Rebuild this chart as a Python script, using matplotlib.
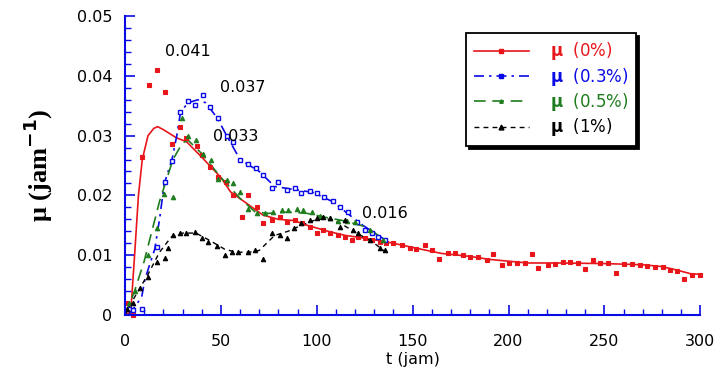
import matplotlib.pyplot as plt
from matplotlib.lines import Line2D
from matplotlib.ticker import MultipleLocator

# ---- data ----

# mu (0%) : measured points and fitted curve
t_0 = [0.5, 4.2, 8.9, 12.5, 16.7, 20.9, 24.5, 28.7, 32, 37.4,
       40, 44.3, 48.5, 52.5, 56.5, 61, 64, 68.8, 72, 76.6,
       80.8, 84.5, 88.7, 92.3, 96.5, 100, 103.3, 107, 111, 114.8,
       118.4, 121.5, 125, 129, 133, 136, 140, 144.5, 148.7, 152,
       156.5, 160, 164, 168.5, 172, 176.5, 180, 184, 188.8, 192,
       196.7, 200, 204.5, 208.7, 212.3, 215.5, 220.7, 224, 228.5, 232,
       236.3, 240, 244, 247.8, 252, 256, 260, 264.5, 268.6, 272,
       276.5, 280.6, 284.3, 288, 291.6, 295.8, 300]
mu_0 = [0.002, 0.0, 0.0264, 0.0385, 0.041, 0.0373, 0.0286, 0.0315, 0.0296, 0.0283,
        0.0268, 0.0248, 0.0231, 0.0222, 0.020, 0.0164, 0.020, 0.018, 0.0154, 0.0159,
        0.0164, 0.0156, 0.0159, 0.0154, 0.0147, 0.0137, 0.0142, 0.0137, 0.0134, 0.0130,
        0.0125, 0.013, 0.0129, 0.0125, 0.0122, 0.0121, 0.0120, 0.0117, 0.0112, 0.011,
        0.0117, 0.0109, 0.0094, 0.0104, 0.0104, 0.0100, 0.0097, 0.0097, 0.0092, 0.0102,
        0.0084, 0.0087, 0.0087, 0.0087, 0.0102, 0.0078, 0.0084, 0.0085, 0.0089, 0.0089,
        0.0087, 0.0077, 0.0092, 0.0087, 0.0087, 0.0070, 0.0085, 0.0085, 0.0084, 0.0082,
        0.0080, 0.0080, 0.0075, 0.0074, 0.0060, 0.0067, 0.0067]
t_0_fit = [0, 3, 5, 7, 9, 12, 15, 17, 20, 27,
           32, 40, 50, 55, 62, 72, 80, 88, 95, 107,
           115, 124, 135, 140, 150, 165, 180, 190, 200, 210,
           225, 250, 270, 280, 288, 295, 300]
mu_0_fit = [0, 0.0005, 0.010, 0.020, 0.026, 0.030, 0.0312, 0.0315, 0.031, 0.0296,
            0.029, 0.0264, 0.023, 0.0206, 0.019, 0.0167, 0.016, 0.0158, 0.015, 0.0139,
            0.0133, 0.0129, 0.0123, 0.012, 0.0113, 0.0103, 0.0098, 0.0093, 0.009, 0.0087,
            0.0087, 0.0086, 0.0084, 0.0081, 0.0075, 0.0069, 0.0068]

# mu (0.3%)
t_03 = [2, 4.3, 8.7, 16.5, 20.9, 24.6, 28.7, 32.7, 36.5, 40.8,
        44.3, 48.6, 53, 56.5, 60, 64, 68.5, 72, 76.5, 80,
        84.3, 88.7, 92, 96.5, 100, 104, 108.5, 112, 116.5, 121,
        125, 129, 132, 135.6]
mu_03 = [0.001, 0.0008, 0.001, 0.0114, 0.0223, 0.0258, 0.034, 0.0358, 0.0351, 0.0368,
         0.0348, 0.033, 0.030, 0.029, 0.026, 0.0253, 0.0245, 0.0234, 0.0212, 0.0223,
         0.0209, 0.0212, 0.0204, 0.0208, 0.0204, 0.0198, 0.019, 0.0181, 0.0172, 0.0156,
         0.0142, 0.0137, 0.013, 0.0125]
t_03_fit = [2, 8.7, 10.4, 15.5, 18, 20.5, 24.5, 27, 29, 33,
            38, 42, 48, 53, 60, 70, 78, 88, 98, 108,
            116, 124, 136]
mu_03_fit = [0, 0.003, 0.006, 0.011, 0.016, 0.022, 0.026, 0.030, 0.034, 0.0355,
             0.036, 0.0355, 0.033, 0.030, 0.026, 0.024, 0.0215, 0.021, 0.0205, 0.019,
             0.017, 0.015, 0.0125]

# mu (0.5%)
t_05 = [2, 5, 12, 16.5, 20.4, 25, 29.6, 33, 36.8, 40.8,
        45, 48.6, 53, 56.5, 60, 64.3, 68.6, 73, 77.4, 81.7,
        85.2, 89.6, 93, 97.5, 101.8, 107, 111, 116, 120, 128,
        134.6]
mu_05 = [0.002, 0.004, 0.010, 0.0146, 0.0203, 0.0197, 0.033, 0.030, 0.0293, 0.027,
         0.026, 0.0228, 0.0226, 0.022, 0.0205, 0.0178, 0.017, 0.017, 0.0172, 0.0175,
         0.0175, 0.0177, 0.0175, 0.0172, 0.0166, 0.0163, 0.0158, 0.0158, 0.0155, 0.0142,
         0.0125]
t_05_fit = [0, 5, 10, 14, 18, 21, 25, 30, 33, 40,
            50, 60, 68, 75, 85, 95, 105, 115, 125, 136]
mu_05_fit = [0, 0.004, 0.009, 0.014, 0.019, 0.022, 0.026, 0.0288, 0.0292, 0.027,
             0.023, 0.0195, 0.0172, 0.017, 0.0172, 0.017, 0.0163, 0.0157, 0.0148, 0.0125]

# mu (1%)
t_1 = [1, 4.2, 7.8, 12, 16.5, 20.9, 22.4, 25, 28.7, 32,
       36.5, 40, 43.5, 48, 52, 55.8, 59, 64, 68, 72,
       76.6, 81, 84.5, 88, 92, 96.5, 100, 103.3, 107, 112,
       114.8, 119, 121.5, 128, 133, 135.6]
mu_1 = [0.001, 0.002, 0.0045, 0.0064, 0.0089, 0.0095, 0.0112, 0.0134, 0.0137, 0.0137,
        0.0139, 0.0129, 0.0122, 0.0115, 0.0100, 0.0105, 0.0105, 0.0105, 0.0108, 0.0093,
        0.0137, 0.0134, 0.0129, 0.0145, 0.0154, 0.0159, 0.0162, 0.0164, 0.0162, 0.0147,
        0.0159, 0.0142, 0.0137, 0.0125, 0.0112, 0.0109]
t_1_fit = [0, 5, 12, 18, 24, 30, 37, 44, 52, 58,
           65, 70, 78, 85, 92, 100, 107, 114, 122, 130, 136]
mu_1_fit = [0, 0.003, 0.0068, 0.0105, 0.013, 0.0137, 0.0137, 0.0125, 0.011, 0.0105,
            0.0105, 0.0108, 0.0133, 0.014, 0.015, 0.016, 0.016, 0.015, 0.0135, 0.012, 0.0105]

# peak values written on the chart
peak_labels = ["0.041", "0.037", "0.033", "0.016"]
peak_t = [20.9, 49.6, 46, 123.6]
peak_mu = [0.044, 0.038, 0.0298, 0.0170]

legend_labels = ["$\\mathbf{\\mu}$  (0%)", "$\\mathbf{\\mu}$  (0.3%)",
                 "$\\mathbf{\\mu}$  (0.5%)", "$\\mathbf{\\mu}$  (1%)"]

# ---- plot ----

plt.rcParams["mathtext.fontset"] = "dejavusans"

red = "#e8161b"
blue = "#0a0ae6"
green = "#1e7d1e"
black = "black"

fig = plt.figure(figsize=(7.16, 3.68), dpi=100)
ax = fig.add_axes([0.1746, 0.144, 0.8034, 0.8125])

# fitted curves
ax.plot(t_0_fit, mu_0_fit, color=red, lw=1.2, ls="-")
ax.plot(t_03_fit, mu_03_fit, color=blue, lw=1.2, ls=(0, (6, 3, 1.5, 3)))
ax.plot(t_05_fit, mu_05_fit, color=green, lw=1.2, ls=(0, (7, 4)))
ax.plot(t_1_fit, mu_1_fit, color=black, lw=1.0, ls=(0, (3.5, 3)))

# measured points
ax.plot(t_0, mu_0, "s", color=red, ms=3.0, mew=0.8, clip_on=False)
ax.plot(t_03, mu_03, "s", color=blue, mfc="white", ms=3.4, mew=1.0, clip_on=False)
ax.plot(t_05, mu_05, "^", color=green, ms=3.2, mew=0.8, clip_on=False)
ax.plot(t_1, mu_1, "^", color=black, ms=3.2, mew=0.8, clip_on=False)

# peak annotations
for i in range(len(peak_labels)):
    ax.text(peak_t[i], peak_mu[i], peak_labels[i], ha="left", va="center",
            fontsize=11.5, color="black", family="DejaVu Sans")

# axes look: only blue left and bottom spines, ticks pointing in
ax.set_xlim(0, 300)
ax.set_ylim(0, 0.05)
ax.spines["top"].set_visible(False)
ax.spines["right"].set_visible(False)
for side in ["left", "bottom"]:
    ax.spines[side].set_color(blue)
    ax.spines[side].set_linewidth(1.5)

ax.xaxis.set_major_locator(MultipleLocator(50))
ax.xaxis.set_minor_locator(MultipleLocator(10))
ax.yaxis.set_minor_locator(MultipleLocator(0.002))
ax.set_yticks([0, 0.01, 0.02, 0.03, 0.04, 0.05])
ax.set_yticklabels(["0", "0.01", "0.02", "0.03", "0.04", "0.05"])

ax.tick_params(which="both", direction="in", color=blue, labelsize=11.5,
               labelcolor="black")
ax.tick_params(which="major", length=7, width=1.2)
ax.tick_params(which="minor", length=4, width=1.0)
ax.tick_params(axis="x", which="major", pad=14)
ax.tick_params(axis="y", which="major", pad=9)

ax.set_xlabel("t (jam)", fontsize=11.5, va="top")
ax.xaxis.set_label_coords(0.5, -0.125)
ax.set_ylabel("μ (jam$^{\\mathbf{-1}}$)", fontsize=19, fontweight="bold",
              family="Liberation Serif", labelpad=16)

# legend built from line handles
handles = [
    Line2D([], [], color=red, lw=1.2, ls="-", marker="s", ms=3),
    Line2D([], [], color=blue, lw=1.2, ls=(0, (6, 3, 1.5, 3)), marker="s", ms=3.5),
    Line2D([], [], color=green, lw=1.2, ls=(0, (7, 4)), marker="^", ms=2.5),
    Line2D([], [], color=black, lw=1.0, ls=(0, (3.5, 3)), marker="^", ms=3.5),
]
leg = ax.legend(handles, legend_labels, loc="upper left",
                bbox_to_anchor=(466 / 716, 1 - 33 / 368),
                bbox_transform=fig.transFigure, borderaxespad=0,
                fancybox=False, edgecolor="black", framealpha=1,
                shadow={"color": "black", "alpha": 1},
                fontsize=12, handlelength=3.3, handletextpad=1.3,
                labelspacing=0.2, borderpad=0.45)
leg.get_frame().set_linewidth(1.3)
text_colors = [red, blue, green, black]
for i, txt in enumerate(leg.get_texts()):
    txt.set_color(text_colors[i])

fig.savefig("out.png", dpi=100)
